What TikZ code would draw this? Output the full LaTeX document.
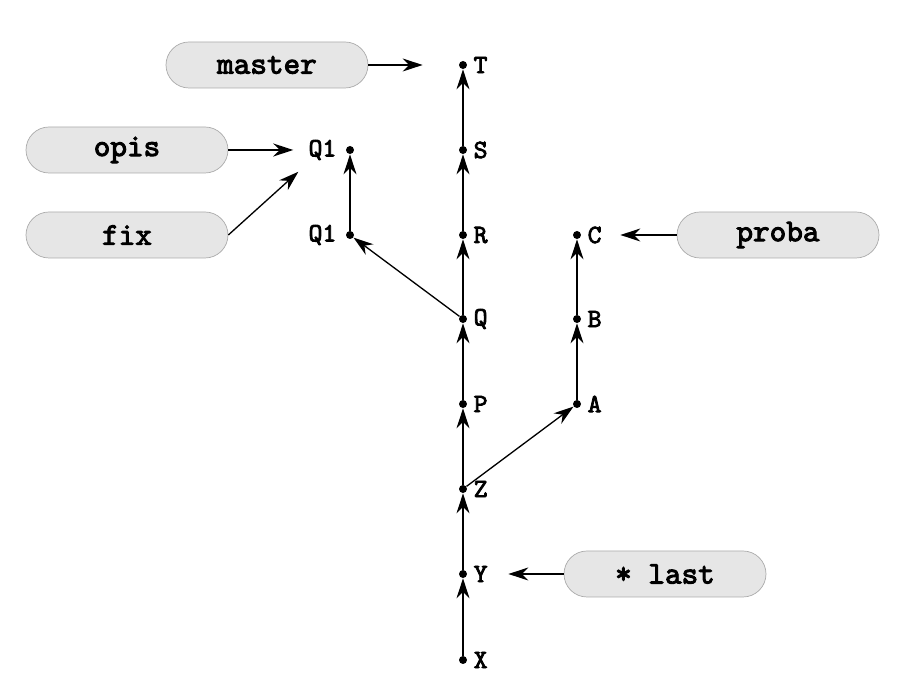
\documentclass[tikz,border=0pt]{standalone}
\usepackage{fontspec}
\setmonofont{lmmono10-regular.otf}[BoldFont=lmmono10-regular.otf, BoldFeatures={FakeBold=3}]
\usetikzlibrary{positioning,arrows.meta}
\definecolor{brfill}{HTML}{E6E6E6}
\definecolor{brdraw}{HTML}{ABABAB}

\begin{document}
\begin{tikzpicture}[
            commit/.style={circle, fill=black, inner sep=0pt, minimum size=0.16cm},
            lbl/.style={inner sep=0pt, font=\ttfamily\bfseries\fontsize{15}{17}\selectfont},
            branch/.style={rectangle, rounded corners=0.46cm, draw=brdraw, fill=brfill,
                minimum width=4.04cm, minimum height=0.92cm,
                font=\ttfamily\bfseries\fontsize{18}{20}\selectfont},
            edge/.style={-{Stealth[length=0.4cm, width=0.26cm, inset=0.13cm]}, line width=0.75pt}
        ]
            \useasboundingbox (0,0) rectangle (18,14);

            % main line
            \node[commit] (X) at (9.26,0.80) {};
            \node[commit] (Y) at (9.26,2.52) {};
            \node[commit] (Z) at (9.26,4.22) {};
            \node[commit] (P) at (9.26,5.92) {};
            \node[commit] (Q) at (9.26,7.62) {};
            \node[commit] (R) at (9.26,9.30) {};
            \node[commit] (S) at (9.26,11.00) {};
            \node[commit] (T) at (9.26,12.70) {};

            % side branches
            \node[commit] (Q1a) at (7.00,9.30) {};
            \node[commit] (Q1b) at (7.00,11.00) {};
            \node[commit] (A) at (11.54,5.92) {};
            \node[commit] (B) at (11.54,7.62) {};
            \node[commit] (C) at (11.54,9.30) {};

            % commit names
            \foreach \c in {X,Y,Z,P,Q,R,S,T,A,B,C}
                \node[lbl, right=0.12cm of \c] (l-\c) {\c};
            \node[lbl, left=0.18cm of Q1a] (l-Q1a) {Q1};
            \node[lbl, left=0.18cm of Q1b] (l-Q1b) {Q1};

            \draw[edge] (X) -- (Y);
            \draw[edge] (Y) -- (Z);
            \draw[edge] (Z) -- (P);
            \draw[edge] (P) -- (Q);
            \draw[edge] (Q) -- (R);
            \draw[edge] (R) -- (S);
            \draw[edge] (S) -- (T);
            \draw[edge] (Q) -- (Q1a);
            \draw[edge] (Q1a) -- (Q1b);
            \draw[edge] (Z) -- (A);
            \draw[edge] (A) -- (B);
            \draw[edge] (B) -- (C);

            % branch pointers
            \node[branch] (b-master) at (5.34,12.70) {master};
            \node[branch] (b-opis) at (2.54,11.00) {opis};
            \node[branch] (b-fix) at (2.54,9.30) {fix};
            \node[branch] (b-proba) at (15.56,9.30) {proba};
            \node[branch] (b-last) at (13.30,2.52) {* last};

            \draw[edge, shorten >=0.72cm] (b-master) -- (T);
            \draw[edge, shorten >=0.30cm] (b-opis) -- (l-Q1b);
            \draw[edge, shorten >=0.34cm] (b-fix.east) -- (l-Q1b);
            \draw[edge, shorten >=0.78cm] (b-proba) -- (C);
            \draw[edge, shorten >=0.82cm] (b-last) -- (Y);
        \end{tikzpicture}
\end{document}
